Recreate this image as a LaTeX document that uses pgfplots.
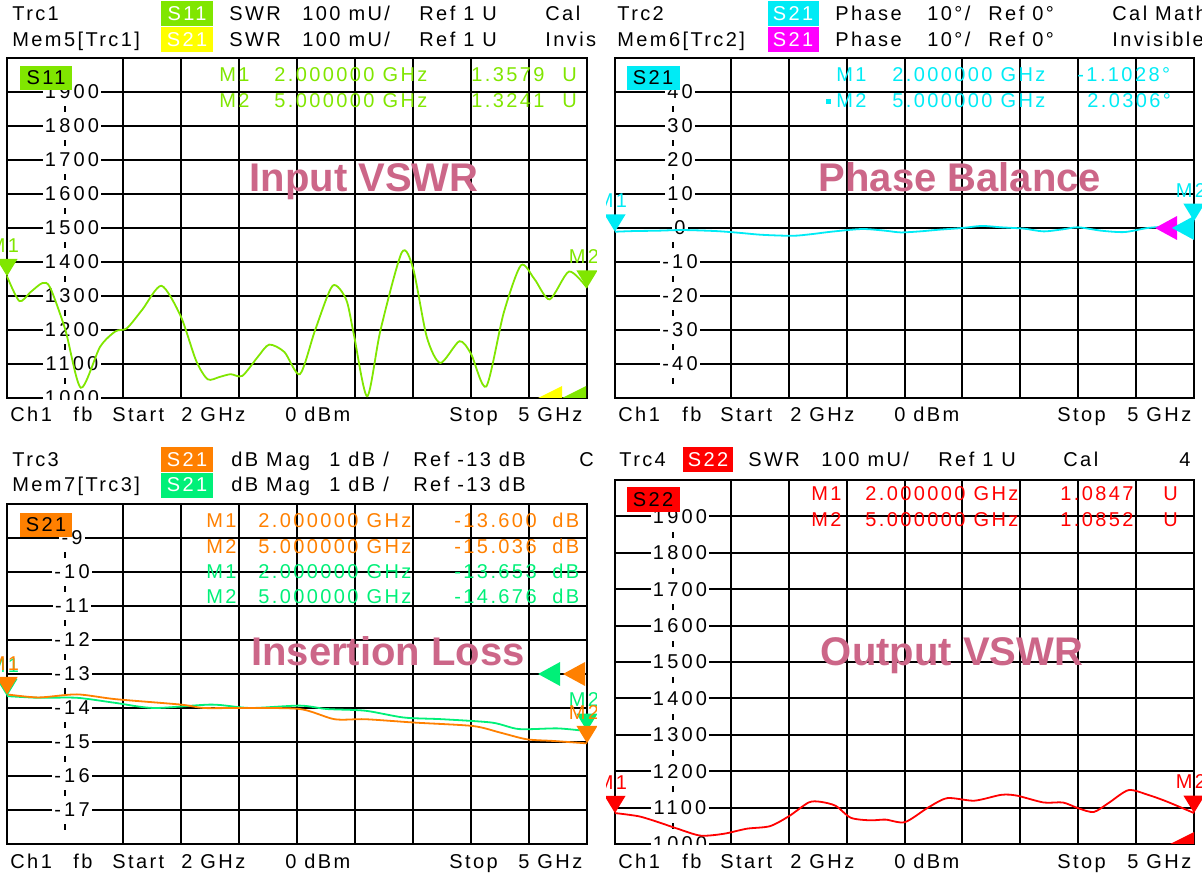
\documentclass[border=0pt]{standalone}
\usepackage{fontspec}
\setmainfont{Liberation Sans}
\newfontfamily\vna{Liberation Sans}[LetterSpace=12]
\newfontfamily\vnt{Liberation Sans}[LetterSpace=16]
\usepackage{pgfplots}
\pgfplotsset{compat=1.18}
\newcommand{\vt}{\vna\fontsize{10pt}{12pt}\selectfont}
\newcommand{\vtt}{\vnt\fontsize{10pt}{12pt}\selectfont}
\definecolor{cS}{RGB}{128,230,0}
\definecolor{cY}{RGB}{255,255,0}
\definecolor{cC}{RGB}{0,235,245}
\definecolor{cM}{RGB}{255,0,255}
\definecolor{cO}{RGB}{255,128,0}
\definecolor{cG}{RGB}{0,240,120}
\definecolor{cR}{RGB}{255,0,0}
\definecolor{cT}{RGB}{204,102,136}
\pgfdeclareplotmark{dtri}{\pgfpathmoveto{\pgfqpoint{0pt}{0pt}}\pgfpathlineto{\pgfqpoint{-5.3pt}{8.7pt}}\pgfpathlineto{\pgfqpoint{5.3pt}{8.7pt}}\pgfpathclose\pgfusepath{fill}}
\pgfdeclareplotmark{ltri}{\pgfpathmoveto{\pgfqpoint{0pt}{0pt}}\pgfpathlineto{\pgfqpoint{11pt}{6pt}}\pgfpathlineto{\pgfqpoint{11pt}{-6pt}}\pgfpathclose\pgfusepath{fill}}
\pgfdeclareplotmark{ltrih}{\pgfpathmoveto{\pgfqpoint{0pt}{0pt}}\pgfpathlineto{\pgfqpoint{12pt}{6pt}}\pgfpathlineto{\pgfqpoint{12pt}{0pt}}\pgfpathclose\pgfusepath{fill}}
\pgfplotsset{vna/.style={
  scale only axis, clip=false, anchor=south west,
  xmin=2, xmax=5,
  xtick={2,2.6,2.9,3.2,3.5,3.8,4.1,4.4,4.7,5}, xticklabels={,,,,,,,,,},
  extra x ticks={2.3}, extra x tick labels={},
  major tick length=0pt,
  grid=major,
  grid style={black, line width=1pt},
  axis line style={black, line width=1pt},
  yticklabel style={font=\vtt, anchor=center, xshift=32.5pt, fill=white, inner sep=1.2pt},
  extra x tick style={grid style={black, line width=1pt, dash pattern=on 3pt off 14pt, dash phase=10pt}},
  curve/.style={line width=0.9pt, smooth, tension=0.45, mark=none},
  mk/.style={only marks, mark=dtri, nodes near coords={##1}, nodes near coords style={font=\vt, anchor=south, yshift=11.8pt, xshift=-1.5pt, inner sep=0pt}},
}}
\begin{document}
\begin{tikzpicture}
% Panel 1: Input VSWR
\begin{axis}[vna, at={(3.5pt,239pt)}, width=290pt, height=170pt,
  ymin=1000, ymax=2000, ytick={1000,1100,1200,1300,1400,1500,1600,1700,1800,1900},
  yticklabels={1000,1100,1200,1300,1400,1500,1600,1700,1800,1900}]
\addplot[cS, curve] table {
2.000 1358
2.064 1285
2.123 1312
2.183 1338
2.223 1325
2.302 1200
2.382 1030
2.481 1150
2.561 1196
2.620 1205
2.700 1260
2.799 1330
2.899 1240
2.978 1110
3.038 1055
3.100 1062
3.157 1070
3.217 1065
3.296 1120
3.356 1157
3.435 1135
3.515 1070
3.594 1200
3.684 1330
3.754 1290
3.793 1190
3.863 1005
3.932 1200
4.042 1428
4.101 1380
4.171 1180
4.241 1103
4.340 1167
4.400 1130
4.479 1034
4.569 1250
4.658 1390
4.728 1350
4.807 1290
4.907 1372
5.000 1324
};
\addplot[cY, only marks, mark=ltrih] coordinates {(4.747,1000)};
\addplot[cS, only marks, mark=ltrih] coordinates {(4.871,1000)};
\addplot[cS, mk=M1] coordinates {(2,1358)};
\addplot[cS, mk=M2] coordinates {(5,1324)};
\end{axis}
% Panel 3: Insertion Loss
\begin{axis}[vna, at={(3.5pt,16pt)}, width=290pt, height=170pt,
  ymin=-18, ymax=-8, ytick={-17,-16,-15,-14,-13,-12,-11,-10,-9},
  yticklabels={-17,-16,-15,-14,-13,-12,-11,-10,-9}]
\addplot[cG, curve] table {
2.000 -13.65
2.163 -13.70
2.362 -13.70
2.561 -13.85
2.760 -14.00
3.058 -13.90
3.257 -14.00
3.515 -13.93
3.654 -14.03
3.853 -14.08
4.052 -14.28
4.251 -14.33
4.509 -14.43
4.648 -14.62
4.847 -14.60
5.000 -14.68
};
\addplot[cO, curve] table {
2.000 -13.60
2.163 -13.69
2.362 -13.60
2.561 -13.74
2.899 -13.90
3.018 -14.00
3.217 -14.00
3.515 -14.03
3.694 -14.33
3.853 -14.33
4.111 -14.43
4.410 -14.53
4.549 -14.72
4.688 -14.92
4.827 -14.97
5.000 -15.04
};
\addplot[cG, only marks, mark=ltri] coordinates {(4.747,-13)};
\addplot[cO, only marks, mark=ltri] coordinates {(4.876,-13)};
\addplot[cG, mk=M1] coordinates {(2,-13.653)};
\addplot[cO, mk=M1] coordinates {(2,-13.600)};
\addplot[cG, mk=M2] coordinates {(5,-14.676)};
\addplot[cO, mk=M2] coordinates {(5,-15.036)};
\end{axis}
% Panel 2: Phase Balance
\begin{axis}[vna, at={(307.5pt,239pt)}, width=289.5pt, height=170pt,
  ymin=-50, ymax=50, ytick={-40,-30,-20,-10,0,10,20,30,40},
  yticklabels={-40,-30,-20,-10,0,10,20,30,40}]
\addplot[cC, curve] table {
2.00 -1.1
2.10 -0.9
2.22 -0.8
2.35 -0.6
2.52 -0.9
2.64 -1.4
2.76 -2.0
2.92 -2.3
3.02 -1.8
3.12 -1.1
3.28 -0.3
3.40 -0.8
3.48 -1.3
3.58 -1.0
3.68 -0.5
3.80 0.0
3.90 0.6
4.00 0.2
4.12 -0.2
4.22 -1.0
4.32 -0.4
4.40 0.2
4.52 -0.8
4.64 -1.2
4.76 0.0
4.88 0.5
4.94 0.8
5.00 2.03
};
\addplot[cM, only marks, mark=ltri] coordinates {(4.798,0)};
\addplot[cC, only marks, mark=ltri] coordinates {(4.886,0)};
\addplot[cC, mk=M1] coordinates {(2,-1.1028)};
\addplot[cC, mk=M2] coordinates {(5,2.0306)};
\end{axis}
% Panel 4: Output VSWR
\begin{axis}[vna, at={(307.5pt,16pt)}, width=289.5pt, height=182pt,
  ymin=1000, ymax=2000, ytick={1000,1100,1200,1300,1400,1500,1600,1700,1800,1900},
  yticklabels={1000,1100,1200,1300,1400,1500,1600,1700,1800,1900},
  extra x tick style={grid style={black, line width=1pt, dash pattern=on 3pt off 15.2pt, dash phase=10.6pt}}]
\addplot[cR, curve] table {
2.000 1085
2.124 1076
2.224 1060
2.324 1042
2.443 1023
2.563 1028
2.683 1042
2.803 1049
2.903 1077
3.003 1114
3.063 1116
3.143 1105
3.222 1072
3.322 1065
3.402 1067
3.502 1060
3.622 1100
3.722 1126
3.862 1119
4.001 1135
4.081 1133
4.221 1114
4.321 1114
4.401 1098
4.481 1088
4.561 1114
4.661 1148
4.762 1135
4.862 1116
5.000 1085
};
\addplot[cR, only marks, mark=ltrih] coordinates {(4.876,1000)};
\addplot[cR, mk=M1] coordinates {(2,1084.7)};
\addplot[cR, mk=M2] coordinates {(5,1085.2)};
\end{axis}
% ---------- annotations (pixel coordinates, origin top-left) ----------
\begin{scope}[x=0.5pt,y=-0.5pt,shift={(0pt,438pt)}, every node/.style={inner sep=0pt, anchor=base west, font=\vt}]
% masks emulating the instrument's clipping of panel edges
\fill[white] (597,0) rectangle (606,876);
\fill[white] (30,400) rectangle (110,407.5);
\fill[white] (636,845) rectangle (716,852.5);
\fill[cS] (161,1) rectangle (213,26);
\fill[cY] (161,27) rectangle (213,52);
\node at (12,21) {Trc1};
\node[text=white, anchor=base] at (187,21) {S11};
\node at (229,21) {SWR}; \node at (302,21) {100 mU/}; \node at (419,21) {Ref 1 U}; \node at (545,21) {Cal};
\node at (12,47) {Mem5[Trc1]};
\node[text=white, anchor=base] at (187,47) {S21};
\node at (229,47) {SWR}; \node at (302,47) {100 mU/}; \node at (419,47) {Ref 1 U}; \node at (545,47) {Invis};
\fill[cS] (20,66) rectangle (72,90); \node[anchor=base] at (46,85) {S11};
\begin{scope}[every node/.append style={text=cS}]
\node at (219,82) {M1}; \node at (274,82) {2.000000 GHz}; \node at (471,82) {1.3579}; \node at (562,82) {U};
\node at (219,108) {M2}; \node at (274,108) {5.000000 GHz}; \node at (471,108) {1.3241}; \node at (562,108) {U};
\end{scope}
\node[anchor=base, font=\bfseries\fontsize{20pt}{24pt}\selectfont, text=cT] at (364,192) {Input VSWR};
\node at (10,422) {Ch1}; \node at (73,422) {fb}; \node at (112,422) {Start}; \node at (181,422) {2 GHz}; \node at (285,422) {0 dBm}; \node at (449,422) {Stop}; \node at (518,422) {5 GHz};
\fill[cC] (768,1) rectangle (819,26);
\fill[cM] (768,27) rectangle (819,52);
\node at (617,21) {Trc2};
\node[text=white, anchor=base] at (793,21) {S21};
\node at (835,21) {Phase}; \node at (927,21) {10°/}; \node at (988,21) {Ref 0°}; \node at (1112,21) {Cal Math};
\node at (617,47) {Mem6[Trc2]};
\node[text=white, anchor=base] at (793,47) {S21};
\node at (835,47) {Phase}; \node at (927,47) {10°/}; \node at (988,47) {Ref 0°}; \node at (1112,47) {Invisible};
\fill[cC] (627,66) rectangle (680,90); \node[anchor=base] at (653,85) {S21};
\begin{scope}[every node/.append style={text=cC}]
\node at (836,82) {M1}; \node at (892,82) {2.000000 GHz}; \node at (1077,82) {-1.1028°};
\fill[cC] (826,99) rectangle (831,104);
\node at (836,108) {M2}; \node at (892,108) {5.000000 GHz}; \node at (1087,108) {2.0306°};
\end{scope}
\node[anchor=base, font=\bfseries\fontsize{20pt}{24pt}\selectfont, text=cT] at (960,192) {Phase Balance};
\node at (618,422) {Ch1}; \node at (682,422) {fb}; \node at (720,422) {Start}; \node at (790,422) {2 GHz}; \node at (894,422) {0 dBm}; \node at (1057,422) {Stop}; \node at (1127,422) {5 GHz};
\fill[cO] (161,447) rectangle (213,472);
\fill[cG] (161,473) rectangle (213,498);
\node at (12,467) {Trc3};
\node[text=white, anchor=base] at (187,467) {S21};
\node at (231,467) {dB Mag}; \node at (329,467) {1 dB /}; \node at (413,467) {Ref -13 dB}; \node at (579,467) {C};
\node at (12,492) {Mem7[Trc3]};
\node[text=white, anchor=base] at (187,492) {S21};
\node at (231,492) {dB Mag}; \node at (329,492) {1 dB /}; \node at (413,492) {Ref -13 dB};
\fill[cO] (20,513) rectangle (72,537); \node[anchor=base] at (46,532) {S21};
\begin{scope}[every node/.append style={text=cO}]
\node at (206,528) {M1}; \node at (258,528) {2.000000 GHz}; \node at (454,528) {-13.600}; \node at (552,528) {dB};
\node at (206,554) {M2}; \node at (258,554) {5.000000 GHz}; \node at (454,554) {-15.036}; \node at (552,554) {dB};
\end{scope}
\begin{scope}[every node/.append style={text=cG}]
\node at (206,579) {M1}; \node at (258,579) {2.000000 GHz}; \node at (454,579) {-13.653}; \node at (552,579) {dB};
\node at (206,604) {M2}; \node at (258,604) {5.000000 GHz}; \node at (454,604) {-14.676}; \node at (552,604) {dB};
\end{scope}
\node[anchor=base, font=\bfseries\fontsize{20pt}{24pt}\selectfont, text=cT] at (388,666) {Insertion Loss};
\node at (10,869) {Ch1}; \node at (73,869) {fb}; \node at (112,869) {Start}; \node at (181,869) {2 GHz}; \node at (285,869) {0 dBm}; \node at (449,869) {Stop}; \node at (518,869) {5 GHz};
\fill[cR] (683,447) rectangle (733,472);
\node at (619,467) {Trc4};
\node[text=white, anchor=base] at (708,467) {S22};
\node at (748,467) {SWR}; \node at (821,467) {100 mU/}; \node at (938,467) {Ref 1 U}; \node at (1063,467) {Cal}; \node at (1179,467) {4};
\fill[cR] (627,487) rectangle (680,512); \node[anchor=base] at (653,507) {S22};
\begin{scope}[every node/.append style={text=cR}]
\node at (811,501) {M1}; \node at (865,501) {2.000000 GHz}; \node at (1060,501) {1.0847}; \node at (1163,501) {U};
\node at (811,527) {M2}; \node at (865,527) {5.000000 GHz}; \node at (1060,527) {1.0852}; \node at (1163,527) {U};
\end{scope}
\node[anchor=base, font=\bfseries\fontsize{20pt}{24pt}\selectfont, text=cT] at (952,666) {Output VSWR};
\node at (618,869) {Ch1}; \node at (682,869) {fb}; \node at (720,869) {Start}; \node at (790,869) {2 GHz}; \node at (894,869) {0 dBm}; \node at (1057,869) {Stop}; \node at (1127,869) {5 GHz};
\end{scope}
\pgfresetboundingbox
\path[use as bounding box] (0,0) rectangle (601pt,438pt);
\end{tikzpicture}
\end{document}
